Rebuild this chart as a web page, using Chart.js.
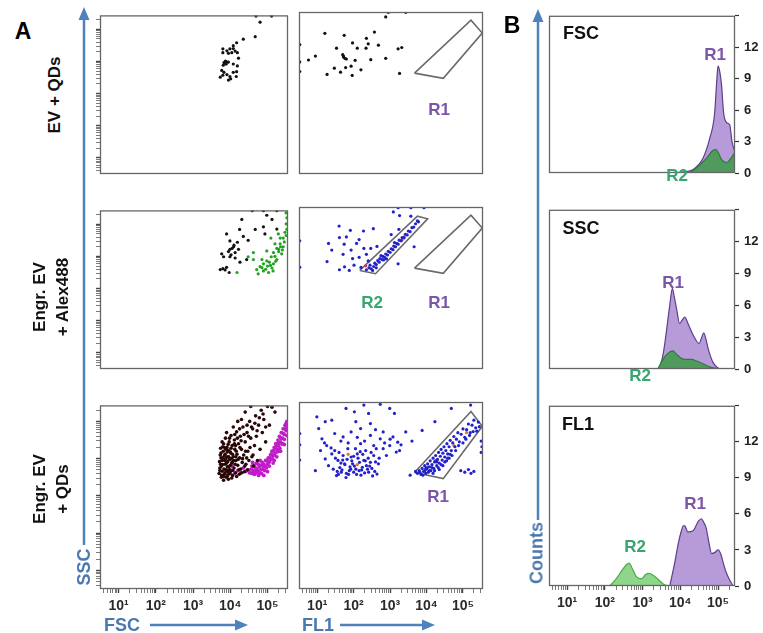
<!DOCTYPE html>
<html>
<head>
<meta charset="utf-8">
<script src="https://cdn.jsdelivr.net/npm/chart.js@4"></script>
<style>
    body { margin: 0; background: #fff; overflow: hidden; }
    #fig { position: relative; width: 763px; height: 633px; font-family: "Liberation Sans", Arial, sans-serif; }
    #fig canvas { position: absolute; }
    .t { position: absolute; transform: translate(-50%, -50%); font-weight: bold; white-space: nowrap; }
    .rot { transform: translate(-50%, -50%) rotate(-90deg); text-align: center; }
    .r1 { color: #7b55a8; font-size: 17px; }
    .r2 { color: #37a66e; font-size: 17px; }
    .ax { color: #4a78b0; font-size: 18px; }
    .row { font-size: 17px; line-height: 23px; color: #111; }
    .ttl { font-size: 18px; color: #111; }
</style>
</head>
<body>
<div id="fig">
    <svg width="763" height="633" style="position:absolute;left:0;top:0">
        <g stroke="#4f81bd" stroke-width="2.5" fill="#4f81bd">
            <line x1="84" y1="545" x2="84" y2="18" />
            <polygon points="84,7 78.5,20 89.5,20" stroke="none" />
            <line x1="150" y1="625" x2="238" y2="625" />
            <polygon points="248,625 235,619.5 235,630.5" stroke="none" />
            <line x1="340" y1="625" x2="425" y2="625" />
            <polygon points="435,625 422,619.5 422,630.5" stroke="none" />
            <line x1="538" y1="520" x2="538" y2="20" />
            <polygon points="538,9 532.5,22 543.5,22" stroke="none" />
        </g>
    </svg>
    <canvas id="s11" width="214" height="206" style="left:84px;top:2px"></canvas>
    <canvas id="s12" width="210" height="206" style="left:283px;top:2px"></canvas>
    <canvas id="s21" width="214" height="206" style="left:84px;top:197px"></canvas>
    <canvas id="s22" width="210" height="206" style="left:283px;top:197px"></canvas>
    <canvas id="s31" width="214" height="231" style="left:84px;top:392px"></canvas>
    <canvas id="s32" width="210" height="231" style="left:283px;top:392px"></canvas>
    <canvas id="h1" width="224" height="204" style="left:539px;top:3px"></canvas>
    <canvas id="h2" width="224" height="206" style="left:539px;top:197px"></canvas>
    <canvas id="h3" width="224" height="227" style="left:539px;top:393px"></canvas>

    <div class="t" style="left:23px;top:31px;font-size:23px">A</div>
    <div class="t" style="left:512px;top:25px;font-size:23px">B</div>
    <div class="t rot row" style="left:54px;top:95px">EV + QDs</div>
    <div class="t rot row" style="left:51px;top:297px">Engr. EV<br>+ Alex488</div>
    <div class="t rot row" style="left:51px;top:489px">Engr. EV<br>+ QDs</div>
    <div class="t rot ax" style="left:84px;top:567px">SSC</div>
    <div class="t ax" style="left:122px;top:625px">FSC</div>
    <div class="t ax" style="left:318px;top:625px">FL1</div>
    <div class="t rot ax" style="left:537px;top:553px">Counts</div>

    <div class="t r1" style="left:439px;top:110px">R1</div>
    <div class="t r2" style="left:372px;top:303px">R2</div>
    <div class="t r1" style="left:439px;top:303px">R1</div>
    <div class="t r1" style="left:438px;top:497px">R1</div>

    <div class="t ttl" style="left:581px;top:33px">FSC</div>
    <div class="t ttl" style="left:581px;top:228px">SSC</div>
    <div class="t ttl" style="left:578px;top:424px">FL1</div>
    <div class="t r1" style="left:715px;top:55px">R1</div>
    <div class="t r2" style="left:677px;top:176px">R2</div>
    <div class="t r1" style="left:673px;top:283px">R1</div>
    <div class="t r2" style="left:640px;top:376px">R2</div>
    <div class="t r1" style="left:695px;top:504px">R1</div>
    <div class="t r2" style="left:635px;top:547px">R2</div>
</div>

<script>
// axis ranges, as log10 of the value
const scatterX = [0.5, 5.55]
const scatterY = [0.5, 5.43]
const histX = [0.52, 5.45]
const countMax = 15
const decadeNames = ["", "10\u00b9", "10\u00b2", "10\u00b3", "10\u2074", "10\u2075"]
const countTicks = [0, 3, 6, 9, 12]

// scatter events: [log10 x, log10 SSC]
const evQdsFsc = [
    [3.80, 4.39], [3.80, 4.27], [3.91, 4.33], [3.99, 4.39], [4.08, 4.40], [4.13, 4.32], [4.19, 4.27],
    [4.04, 4.27], [3.95, 4.25], [4.17, 4.58], [4.08, 4.49], [3.83, 3.96], [3.89, 3.92], [3.95, 3.98],
    [4.08, 3.92], [4.22, 4.10], [4.19, 3.86], [3.77, 3.72], [3.83, 3.66], [3.73, 3.51], [3.80, 3.57],
    [3.91, 3.59], [3.99, 3.53], [4.08, 3.66], [4.16, 3.53], [4.17, 3.68], [4.01, 3.46], [3.95, 3.42],
    [3.87, 4.01], [3.81, 3.88], [3.85, 3.97], [3.88, 3.93], [3.90, 3.99], [3.86, 3.95], [4.35, 4.69],
    [4.67, 4.77], [4.80, 5.22], [4.69, 5.41], [5.11, 5.41],
]
const evQdsFl1 = [
    [1.21, 4.78], [1.74, 4.72], [2.57, 4.82], [2.35, 4.63], [2.88, 5.28], [1.97, 4.49], [2.40, 4.46],
    [1.53, 4.33], [2.10, 4.33], [2.34, 4.33], [2.68, 4.42], [3.22, 4.31], [3.32, 4.35], [0.76, 3.97],
    [0.95, 4.09], [1.72, 4.09], [1.80, 4.00], [2.04, 3.96], [2.47, 3.98], [2.88, 4.02], [1.47, 3.72],
    [1.64, 3.60], [1.78, 3.74], [1.93, 3.78], [2.20, 3.67], [1.27, 3.53], [1.96, 3.50], [3.26, 3.56],
    [1.70, 4.13], [1.72, 4.06], [1.76, 4.02], [0.52, 4.44], [0.52, 3.91], [0.52, 3.62], [2.95, 5.42],
    [3.43, 5.42],
]
const alexFscBlack = [
    [3.90, 4.70], [4.31, 5.15], [4.25, 4.84], [4.48, 4.50], [4.67, 4.84], [4.89, 4.92], [4.98, 5.28],
    [5.12, 5.15], [5.25, 4.85], [4.93, 4.70], [3.99, 4.48], [4.19, 4.44], [4.09, 4.30], [4.22, 4.22],
    [3.77, 4.08], [3.82, 3.99], [3.99, 3.99], [4.13, 3.95], [4.44, 3.90], [4.26, 3.82], [3.73, 3.59],
    [3.86, 3.58], [3.97, 3.50], [3.90, 3.66], [4.59, 5.42], [4.89, 5.42], [5.25, 5.42], [3.99, 4.22],
    [4.13, 4.12], [4.05, 4.25], [4.10, 4.35], [3.95, 4.15], [4.02, 4.05], [3.80, 3.62], [4.35, 4.62],
]
const alexFscGreen = [
    [4.18, 3.50], [4.62, 4.12], [4.71, 3.59], [4.80, 3.68], [4.89, 3.77], [4.98, 3.86], [4.85, 3.90],
    [5.10, 3.99], [5.16, 4.12], [5.25, 4.25], [5.34, 4.39], [5.42, 4.57], [5.47, 4.75], [5.50, 5.01],
    [5.03, 3.50], [4.89, 3.55], [4.75, 3.46], [5.25, 3.90], [5.16, 3.77], [5.38, 4.08], [5.30, 4.22],
    [4.98, 4.17], [5.20, 4.39], [5.09, 4.57], [5.34, 4.57], [5.52, 4.84], [4.48, 3.99], [4.62, 3.90],
    [5.12, 3.64], [5.42, 4.30], [5.29, 4.70], [5.00, 3.70], [5.05, 3.82], [5.20, 4.00], [5.30, 4.15],
    [5.45, 4.45], [5.50, 4.65], [4.95, 3.60], [5.15, 3.55], [4.85, 3.65], [5.35, 4.30], [5.08, 3.72],
    [5.22, 3.85], [5.40, 4.20], [5.52, 5.20], [5.50, 5.35],
]
const alexFl1Blue = [
    [1.31, 4.32], [1.60, 4.85], [1.91, 4.72], [2.27, 4.70], [2.54, 4.77], [1.27, 3.77], [1.61, 4.50],
    [1.80, 4.52], [1.74, 4.30], [1.40, 4.12], [1.93, 4.12], [2.15, 4.44], [2.08, 4.32], [2.28, 4.17],
    [2.47, 4.17], [2.64, 4.23], [1.71, 3.99], [1.97, 3.86], [2.15, 3.90], [2.35, 3.99], [1.61, 3.52],
    [1.75, 3.61], [1.88, 3.50], [2.01, 3.66], [2.20, 3.59], [2.40, 3.79], [2.82, 3.82], [3.09, 5.28],
    [3.26, 5.17], [3.24, 4.75], [3.03, 4.59], [3.22, 3.70], [3.66, 4.22], [3.57, 5.15], [3.75, 5.01],
    [3.93, 5.41], [3.22, 5.41], [3.57, 5.41], [0.52, 4.40], [0.52, 3.60],
    // inside R2
    [2.35, 3.52], [2.42, 3.58], [2.48, 3.55], [2.45, 3.66], [2.55, 3.62], [2.58, 3.72], [2.62, 3.68],
    [2.66, 3.80], [2.70, 3.75], [2.72, 3.86], [2.78, 3.83], [2.80, 3.93], [2.85, 3.90], [2.88, 4.00],
    [2.93, 3.97], [2.95, 4.08], [3.00, 4.05], [3.03, 4.16], [3.08, 4.13], [3.10, 4.24], [3.15, 4.22],
    [3.18, 4.32], [3.22, 4.30], [3.25, 4.42], [3.30, 4.40], [3.33, 4.50], [3.38, 4.49], [3.42, 4.60],
    [3.47, 4.58], [3.50, 4.70], [3.55, 4.68], [3.60, 4.80], [3.65, 4.82], [3.70, 4.92], [3.78, 4.98],
    [2.52, 3.50], [2.75, 3.95], [3.12, 4.35], [2.62, 3.58], [2.90, 3.85],
]
const alexFl1Red = [[3.39, 4.52], [2.33, 3.64], [3.32, 4.42]]
const qdsFscDark = [
    [3.70, 3.60], [3.72, 3.75], [3.71, 3.92], [3.73, 4.10], [3.74, 4.28], [3.76, 3.50], [3.78, 3.66],
    [3.79, 3.84], [3.80, 4.02], [3.81, 4.20], [3.82, 4.40], [3.84, 3.58], [3.85, 3.95], [3.86, 4.12],
    [3.87, 4.55], [3.88, 3.70], [3.90, 3.88], [3.91, 4.30], [3.92, 4.05], [3.93, 3.55], [3.95, 4.22],
    [3.96, 3.78], [3.97, 4.45], [3.98, 3.98], [4.00, 3.65], [4.01, 4.15], [4.02, 4.62], [4.04, 3.88],
    [4.05, 4.35], [4.06, 3.55], [4.08, 4.05], [4.10, 3.75], [4.11, 4.50], [4.12, 4.25], [4.14, 3.62],
    [4.15, 3.95], [4.17, 4.72], [4.18, 4.12], [4.20, 3.82], [4.22, 4.40], [4.24, 3.58], [4.25, 4.02],
    [4.27, 4.60], [4.28, 3.72], [4.30, 4.25], [4.32, 3.90], [4.34, 4.85], [4.36, 4.10], [4.38, 3.65],
    [4.40, 4.45], [4.42, 3.85], [4.45, 4.70], [4.47, 4.20], [4.50, 3.95], [4.52, 5.00], [4.55, 4.55],
    [4.58, 4.05], [4.60, 4.80], [4.62, 3.80], [4.65, 4.35], [4.68, 5.15], [4.70, 4.60], [4.73, 3.95],
    [4.76, 4.90], [4.80, 4.25], [4.83, 5.30], [4.86, 4.70], [4.90, 5.05], [4.95, 4.45], [5.00, 5.40],
    [5.05, 4.90], [5.12, 5.38], [5.20, 5.25], [4.40, 5.25], [4.55, 5.40], [4.30, 5.05], [3.90, 4.70],
    [3.78, 4.45], [3.95, 3.45], [3.82, 3.42], [4.08, 4.85], [4.20, 5.00], [3.86, 3.62], [3.98, 3.70],
    [4.03, 4.00], [3.75, 4.02], [4.14, 4.35], [3.92, 4.18],
    [3.72, 3.68], [3.74, 3.85], [3.75, 4.15], [3.77, 3.55], [3.78, 3.95], [3.80, 4.32], [3.83, 3.72],
    [3.84, 4.08], [3.86, 3.85], [3.88, 4.25], [3.89, 3.50], [3.91, 3.68], [3.93, 3.92], [3.94, 4.38],
    [3.96, 4.05], [3.99, 3.60], [4.00, 3.82], [4.02, 4.28], [4.04, 3.48], [4.06, 4.12], [4.07, 3.68],
    [4.09, 3.95], [4.11, 4.40], [4.13, 3.85], [4.16, 4.20], [4.17, 3.52], [4.19, 4.55], [4.21, 3.98],
    [4.23, 3.70], [4.26, 4.30], [4.29, 4.48], [4.31, 3.62], [4.33, 4.00], [4.37, 4.65], [4.39, 3.80],
    [4.41, 4.20], [4.44, 4.02], [4.46, 3.70], [4.49, 4.60], [4.53, 4.30], [4.57, 4.85], [4.61, 4.10],
    [4.66, 4.95], [4.72, 4.75], [4.78, 5.10], [4.88, 5.20], [4.95, 4.85], [4.45, 4.90], [4.25, 4.80],
    [4.12, 4.65], [3.98, 4.55], [3.85, 4.30], [3.76, 3.80], [3.82, 3.52], [3.94, 3.65], [4.05, 3.90],
    [4.15, 4.05], [3.88, 4.00], [4.00, 4.18], [3.92, 3.78],
]
const qdsFscMagenta = [
    [4.50, 3.70], [4.55, 3.62], [4.58, 3.80], [4.62, 3.68], [4.65, 3.58], [4.68, 3.75], [4.70, 3.88],
    [4.74, 3.65], [4.76, 3.55], [4.78, 3.78], [4.82, 3.70], [4.84, 3.60], [4.86, 3.90], [4.88, 3.80],
    [4.92, 3.68], [4.95, 3.95], [4.97, 3.75], [5.00, 3.85], [5.02, 4.02], [5.05, 3.92], [5.08, 4.10],
    [5.10, 3.98], [5.12, 4.20], [5.15, 4.08], [5.18, 4.30], [5.20, 4.15], [5.22, 4.40], [5.25, 4.25],
    [5.28, 4.50], [5.30, 4.35], [5.32, 4.60], [5.35, 4.45], [5.37, 4.70], [5.40, 4.55], [5.42, 4.80],
    [5.45, 4.65], [5.47, 4.90], [5.50, 4.75], [5.52, 5.00], [5.50, 4.95], [5.40, 4.40], [5.30, 4.20],
    [5.18, 3.95], [5.05, 3.80], [4.90, 3.55], [4.60, 3.90], [3.95, 3.62], [4.05, 3.80], [4.20, 3.68],
    [4.35, 3.75],
    [4.52, 3.62], [4.57, 3.72], [4.60, 3.60], [4.64, 3.82], [4.67, 3.66], [4.72, 3.72], [4.75, 3.85],
    [4.80, 3.62], [4.83, 3.82], [4.87, 3.72], [4.90, 3.85], [4.94, 3.78], [4.98, 3.95], [5.00, 3.65],
    [5.03, 3.90], [5.07, 4.02], [5.10, 4.12], [5.13, 4.00], [5.16, 4.22], [5.19, 4.10], [5.23, 4.32],
    [5.26, 4.18], [5.29, 4.42], [5.33, 4.28], [5.36, 4.55], [5.39, 4.40], [5.42, 4.68], [5.45, 4.52],
    [5.48, 4.80], [5.52, 4.62], [5.50, 4.88], [5.53, 4.92], [4.80, 3.95], [4.70, 3.62], [5.15, 3.88],
    [5.25, 4.05], [5.35, 4.20], [5.45, 4.38], [4.00, 3.70], [4.12, 3.60], [4.28, 3.62], [4.42, 3.66],
]
const qdsFl1Blue = [
    [0.99, 5.04], [1.22, 4.91], [1.40, 4.95], [1.79, 5.26], [2.02, 5.17], [2.28, 5.35], [2.41, 5.13],
    [2.73, 5.37], [2.99, 5.26], [3.12, 5.13], [2.06, 4.91], [2.19, 4.73], [2.46, 4.86], [1.93, 4.64],
    [1.71, 4.51], [1.48, 4.60], [1.13, 4.46], [1.26, 4.28], [1.09, 4.15], [1.40, 4.06], [1.57, 3.89],
    [1.75, 3.80], [1.93, 3.98], [2.10, 4.06], [2.33, 4.15], [2.55, 4.28], [2.73, 4.46], [2.81, 4.20],
    [2.99, 4.28], [3.21, 4.37], [3.26, 4.15], [0.95, 3.62], [1.53, 3.49], [1.66, 3.58], [1.88, 3.62],
    [2.06, 3.66], [2.24, 3.71], [2.41, 3.58], [2.64, 3.53], [2.68, 3.80], [2.46, 3.84], [1.31, 3.75],
    [1.44, 3.66], [1.84, 4.20], [2.19, 4.33], [2.46, 4.55], [2.81, 4.64], [3.08, 4.51], [3.43, 4.64],
    [1.79, 3.44], [1.22, 3.93], [1.04, 4.73], [2.28, 3.89], [1.97, 3.80], [1.71, 4.02], [1.48, 4.15],
    [2.55, 4.02], [2.90, 4.02], [3.17, 4.11], [1.62, 3.70], [1.80, 3.55], [1.90, 3.72], [2.00, 3.58],
    [2.15, 3.62], [2.20, 3.50], [2.35, 3.75], [2.50, 3.68], [1.70, 3.90], [1.95, 3.88], [2.12, 3.95],
    [2.25, 4.05], [2.40, 3.95], [1.60, 4.10], [2.05, 4.20], [2.30, 4.40], [1.85, 4.35], [2.60, 3.85],
    [1.55, 3.60], [2.52, 3.48], [0.52, 4.60], [0.52, 3.90], [0.52, 4.30],
    [1.58, 3.52], [1.68, 3.64], [1.76, 3.78], [1.86, 3.52], [1.92, 3.66], [2.02, 3.74], [2.08, 3.52],
    [2.16, 3.84], [2.22, 3.64], [2.30, 3.56], [2.38, 3.66], [2.44, 3.74], [2.58, 3.60], [1.65, 3.82],
    [1.82, 3.92], [2.00, 4.00], [2.18, 4.12], [2.32, 3.88], [2.48, 4.10], [2.62, 4.20], [2.70, 3.95],
    [1.50, 3.95], [1.38, 4.22], [1.20, 4.35], [2.85, 4.35], [3.00, 4.45], [2.10, 4.50], [1.65, 4.40],
    [2.60, 4.70], [3.30, 4.30],
    // inside R1
    [3.75, 3.55], [3.80, 3.62], [3.85, 3.52], [3.88, 3.68], [3.92, 3.60], [3.95, 3.75], [3.98, 3.55],
    [4.00, 3.66], [4.03, 3.80], [4.05, 3.58], [4.08, 3.72], [4.10, 3.88], [4.12, 3.62], [4.15, 3.78],
    [4.18, 3.95], [4.20, 3.68], [4.22, 3.85], [4.25, 4.02], [4.28, 3.75], [4.30, 3.92], [4.33, 4.10],
    [4.35, 3.82], [4.38, 4.00], [4.40, 4.18], [4.43, 3.90], [4.45, 4.08], [4.48, 4.25], [4.50, 3.98],
    [4.53, 4.15], [4.56, 4.33], [4.58, 4.06], [4.62, 4.25], [4.65, 4.42], [4.68, 4.15], [4.72, 4.35],
    [4.75, 4.52], [4.78, 4.25], [4.82, 4.45], [4.86, 4.62], [4.90, 4.38], [4.95, 4.58], [5.00, 4.72],
    [5.05, 4.50], [5.10, 4.70], [5.15, 4.85], [5.20, 4.62], [5.25, 4.82], [5.30, 4.95], [5.35, 4.75],
    [5.42, 4.90], [3.70, 3.60], [3.90, 3.50], [4.02, 3.70], [4.18, 3.55], [4.25, 3.88], [4.35, 3.65],
    [4.45, 3.75], [4.55, 3.88], [4.62, 3.95], [4.70, 4.02],
    [3.82, 3.58], [3.95, 3.62], [4.08, 3.62], [4.22, 3.62], [4.32, 3.70], [4.40, 3.78], [4.50, 3.85],
    [4.58, 3.95], [4.65, 4.05], [4.80, 4.15], [4.88, 4.28], [5.00, 4.35], [5.08, 4.45], [5.18, 4.55],
    [5.28, 4.65], [5.38, 4.66], [5.45, 4.78], [4.15, 3.70], [4.28, 3.85], [3.98, 3.68],
    // around the gate
    [4.94, 3.62], [5.05, 3.58], [5.15, 3.65], [5.30, 3.60], [5.22, 3.55], [5.50, 4.10], [5.50, 4.40],
    [5.52, 4.25], [3.88, 4.68], [4.23, 4.91], [4.68, 5.26], [5.21, 5.35], [3.60, 4.40], [3.55, 3.50],
]
const qdsFl1Orange = [[1.85, 4.05], [2.10, 3.78], [4.30, 3.90], [4.75, 4.28], [5.10, 4.62]]

// gates, [log10 FL1, log10 SSC], closed
const gateR1 = [[3.67, 3.57], [5.22, 5.18], [5.53, 4.79], [4.46, 3.41], [3.67, 3.57]]
const gateR2 = [[2.17, 3.50], [3.75, 5.15], [4.03, 5.07], [2.60, 3.40], [2.17, 3.50]]

// histograms: [log10 channel, counts]
const fscR1 = [[3.76, 0], [4.10, 0.1], [4.33, 0.3], [4.60, 1.4], [4.78, 3.3], [4.91, 5.7], [4.97, 9.0],
    [5.00, 10.2], [5.04, 9.8], [5.09, 8.5], [5.15, 5.7], [5.23, 4.8], [5.31, 4.6], [5.37, 3.0], [5.45, 2.0]]
const fscR2 = [[4.25, 0], [4.43, 0.5], [4.69, 1.4], [4.85, 2.1], [4.94, 2.25], [5.00, 2.0], [5.09, 1.3],
    [5.23, 1.0], [5.36, 1.5], [5.45, 2.0]]
const sscR1 = [[3.45, 0], [3.55, 1.5], [3.63, 3.5], [3.72, 6.0], [3.79, 7.6], [3.84, 6.8], [3.90, 5.7],
    [3.98, 4.3], [4.05, 4.6], [4.12, 4.9], [4.20, 4.3], [4.34, 3.2], [4.50, 2.4], [4.56, 2.9], [4.62, 3.4],
    [4.68, 2.8], [4.74, 1.9], [4.87, 0.6], [5.00, 0.1], [5.13, 0]]
const sscR2 = [[3.40, 0], [3.54, 0.9], [3.65, 1.4], [3.80, 1.7], [3.90, 1.4], [4.03, 1.0], [4.15, 0.9],
    [4.30, 0.9], [4.43, 0.75], [4.60, 0.5], [4.78, 0.2], [5.05, 0]]
const fl1R1 = [[3.72, 0], [3.85, 1.9], [3.95, 3.6], [4.03, 4.6], [4.08, 5.0], [4.12, 5.0], [4.20, 4.5],
    [4.34, 4.6], [4.48, 5.4], [4.56, 5.6], [4.62, 5.3], [4.68, 4.9], [4.76, 3.6], [4.83, 2.7], [4.92, 2.8],
    [5.00, 3.0], [5.08, 2.6], [5.14, 1.9], [5.22, 1.1], [5.31, 0.5], [5.40, 0]]
const fl1R2 = [[2.12, 0], [2.25, 0.4], [2.39, 1.0], [2.55, 1.7], [2.64, 1.9], [2.75, 1.3], [2.83, 0.8],
    [2.97, 0.6], [3.08, 0.95], [3.17, 1.05], [3.28, 0.9], [3.36, 0.7], [3.48, 0.35], [3.58, 0.1], [3.72, 0]]

const FONT = "'Liberation Sans', Arial, sans-serif"

const toPoints = (a) => a.map(([x, y]) => ({ x: 10 ** x, y: 10 ** y }))
const toHist = (a) => a.map(([x, c]) => ({ x: 10 ** x, y: c }))

function isDecade(v) {
    const e = Math.log10(v)
    return Math.abs(e - Math.round(e)) < 1e-6
}

// keep only 1..9 x 10^n ticks (drops the 1.5 steps and the range ends)
function niceTicks(scale) {
    scale.ticks = scale.ticks.filter((t) => {
        const m = t.value / Math.pow(10, Math.floor(Math.log10(t.value) + 1e-9))
        return Math.abs(m - Math.round(m)) < 1e-6
    })
}

function logAxis(range, o) {
    return {
        type: "logarithmic",
        position: o.position,
        display: o.display,
        min: 10 ** range[0],
        max: 10 ** range[1],
        afterBuildTicks: niceTicks,
        afterFit: (s) => {
            if (s.isHorizontal()) s.height = o.size
            else s.width = o.size
        },
        border: { display: false },
        grid: {
            drawOnChartArea: false,
            tickLength: 4,
            tickColor: "#444",
            tickWidth: (c) => (c.tick && isDecade(c.tick.value) ? 1.4 : 0.7),
        },
        ticks: {
            autoSkip: false,
            maxRotation: 0,
            padding: 5,
            color: "#2a2a2a",
            font: { family: FONT, size: 14, weight: "bold" },
            callback: (v) => (o.labels && isDecade(v) ? decadeNames[Math.round(Math.log10(v))] || "" : ""),
        },
    }
}

// box round the plot area
const frame = {
    id: "frame",
    afterDatasetsDraw(chart) {
        const { ctx, chartArea: a } = chart
        ctx.save()
        ctx.strokeStyle = "#666"
        ctx.lineWidth = 1.3
        ctx.strokeRect(a.left + 0.5, a.top + 0.5, a.right - a.left - 1, a.bottom - a.top - 1)
        ctx.restore()
    },
}

const dots = (data, color, r) => ({
    data: toPoints(data),
    backgroundColor: color,
    borderWidth: 0,
    pointRadius: r || 1.6,
})
const gate = (data) => ({
    data: toPoints(data),
    showLine: true,
    pointRadius: 0,
    borderColor: "#6a6a6a",
    borderWidth: 1.6,
    fill: false,
})
const area = (data, fillColor, lineColor, order) => ({
    data: toHist(data),
    showLine: true,
    fill: "origin",
    backgroundColor: fillColor,
    borderColor: lineColor,
    borderWidth: 1.2,
    pointRadius: 0,
    cubicInterpolationMode: "monotone",
    order: order,
})

function scatterPanel(id, datasets, leftTicks, bottomLabels) {
    new Chart(document.getElementById(id), {
        type: "scatter",
        data: { datasets },
        options: {
            responsive: false,
            animation: false,
            events: [],
            layout: { padding: 10 },
            plugins: { legend: { display: false }, tooltip: { enabled: false } },
            scales: {
                x: logAxis(scatterX, { position: "bottom", display: bottomLabels, size: 24, labels: true }),
                y: logAxis(scatterY, { position: "left", display: leftTicks, size: 6, labels: false }),
            },
        },
        plugins: [frame],
    })
}

function histPanel(id, datasets, bottomLabels) {
    new Chart(document.getElementById(id), {
        type: "scatter",
        data: { datasets },
        options: {
            responsive: false,
            animation: false,
            events: [],
            layout: { padding: { top: 10, bottom: 10, left: 10, right: 0 } },
            plugins: { legend: { display: false }, tooltip: { enabled: false } },
            scales: {
                x: logAxis(histX, { position: "bottom", display: bottomLabels, size: 24, labels: true }),
                y: {
                    type: "linear",
                    position: "right",
                    min: 0,
                    max: countMax,
                    afterFit: (s) => { s.width = 28 },
                    border: { display: false },
                    grid: { drawOnChartArea: false, tickLength: 4, tickColor: "#333", tickWidth: 1.2 },
                    ticks: {
                        stepSize: 3,
                        padding: 5,
                        color: "#222",
                        font: { family: FONT, size: 13, weight: "bold" },
                        callback: (v) => (countTicks.includes(v) ? String(v) : ""),
                    },
                },
            },
        },
        plugins: [frame],
    })
}

function main() {
    // A: dot plots
    scatterPanel("s11", [dots(evQdsFsc, "#111")], true, false)
    scatterPanel("s12", [dots(evQdsFl1, "#111"), gate(gateR1)], false, false)
    scatterPanel("s21", [dots(alexFscBlack, "#111"), dots(alexFscGreen, "#22a322")], true, false)
    scatterPanel("s22", [dots(alexFl1Blue, "#2222c8"), dots(alexFl1Red, "#d03070"), gate(gateR2), gate(gateR1)], false, false)
    scatterPanel("s31", [dots(qdsFscDark, "#2a0808", 1.8), dots(qdsFscMagenta, "#c01cc8", 1.9)], true, true)
    scatterPanel("s32", [dots(qdsFl1Blue, "#2222c8"), dots(qdsFl1Orange, "#e8702a"), gate(gateR1)], false, true)

    // B: histograms
    histPanel("h1", [area(fscR1, "#b79bd9", "#5e3f8c", 2), area(fscR2, "#4f9a5c", "#2f7a3d", 1)], false)
    histPanel("h2", [area(sscR1, "#b79bd9", "#5e3f8c", 2), area(sscR2, "#4f9a5c", "#2f7a3d", 1)], false)
    histPanel("h3", [area(fl1R1, "#b79bd9", "#5e3f8c", 2), area(fl1R2, "#8ed68a", "#4aa84a", 1)], true)
}

document.addEventListener("DOMContentLoaded", main)
</script>
</body>
</html>
